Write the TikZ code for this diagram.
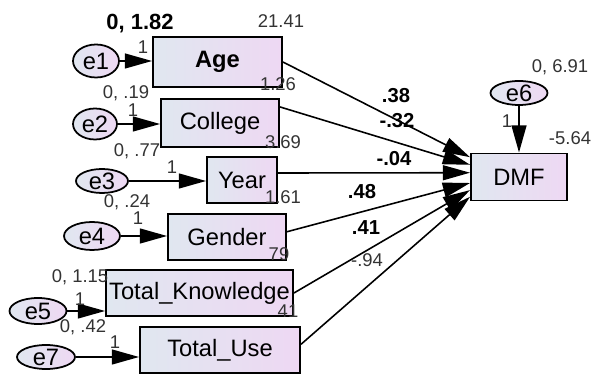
\documentclass[tikz,border=0pt]{standalone}
\usepackage{fontspec}
\setmainfont{Liberation Sans}
\usetikzlibrary{arrows.meta,shapes.geometric}

\definecolor{boxleft}{HTML}{E0E7F0}
\definecolor{boxright}{HTML}{EED8F3}
\definecolor{numgray}{HTML}{333333}

\tikzset{
  var/.style={draw, line width=1.1pt, rectangle, inner sep=0pt, left color=boxleft, right color=boxright,
    minimum height=0.92cm, font=\fontsize{13.5}{15}\selectfont},
  err/.style={draw, line width=1pt, ellipse, inner sep=0pt, left color=boxleft, right color=boxright,
    font=\fontsize{13.5}{15}\selectfont},
  est/.style={font=\fontsize{10.5}{12}\selectfont, text=numgray, inner sep=0pt},
  coef/.style={font=\bfseries\fontsize{11.5}{13}\selectfont, inner sep=0pt},
  regr/.style={line width=0.9pt, -{Triangle[length=15.5pt,width=8.5pt]}},
}

\begin{document}
\begin{tikzpicture}[x=0.02cm, y=-0.02cm]
    \useasboundingbox (0,0) rectangle (594,374);

    % Variables observadas
    \node[var, minimum width=2.58cm, minimum height=1cm, font=\bfseries\fontsize{13.5}{15}\selectfont] (age) at (217.5,62) {Age};
    \node[var, minimum width=2.36cm, minimum height=0.96cm] (college) at (220,123) {College};
    \node[var, minimum width=1.4cm] (year) at (242,180) {Year};
    \node[var, minimum width=2.36cm] (gender) at (227,237) {Gender};
    \node[var, minimum width=3.74cm] (know) at (199.5,293) {Total\_Knowledge};
    \node[var, minimum width=3.2cm] (use) at (220,350) {Total\_Use};
    \node[var, minimum width=1.92cm, minimum height=0.94cm] (dmf) at (519,177) {DMF};

    % Errores
    \node[err, minimum width=0.92cm, minimum height=0.66cm] (e1) at (96,61) {e1};
    \node[err, minimum width=0.88cm, minimum height=0.62cm] (e2) at (95,124) {e2};
    \node[err, minimum width=1.04cm, minimum height=0.48cm] (e3) at (102,181) {e3};
    \node[err, minimum width=1.12cm, minimum height=0.56cm] (e4) at (92,236) {e4};
    \node[err, minimum width=1.14cm, minimum height=0.52cm] (e5) at (38,311) {e5};
    \node[err, minimum width=1.16cm, minimum height=0.48cm] (e7) at (46,357) {e7};
    \node[err, minimum width=1.14cm, minimum height=0.48cm] (e6) at (519,93) {e6};

    \draw[regr] (e1) -- (e1 -| age.west);
    \draw[regr] (e2) -- (e2 -| college.west);
    \draw[regr] (e3) -- (e3 -| year.west);
    \draw[regr] (e4) -- (e4 -| gender.west);
    \draw[regr] (e5) -- (e5 -| know.west);
    \draw[regr] (e7) -- (e7 -| use.west);
    \draw[regr] (e6) -- (dmf);

    % Efectos sobre DMF
    \draw[regr] (age.east) -- (dmf.158);
    \draw[regr] (college.15) -- (dmf.166);
    \draw[regr] (year.11) -- (dmf.175);
    \draw[regr] (gender.5) -- (dmf.187);
    \draw[regr] (know.east) -- (dmf.195);
    \draw[regr] (use.4) -- (dmf.202);

    % Estimaciones
    \node[coef, font=\bfseries\fontsize{12.5}{14}\selectfont] (v1) at (140,24) {0, 1.82};
    \node[est] (m1) at (281,21) {21.41};
    \node[est] (w1) at (143,47) {1};
    \node[est] (m2) at (278,84) {1.26};
    \node[est] (v2) at (126,93) {0, .19};
    \node[est] (w2) at (133,110) {1};
    \node[est] (v3) at (137,151) {0, .77};
    \node[est] (m3) at (283,142) {3.69};
    \node[est] (w3) at (172,167) {1};
    \node[est] (m4) at (283,197) {1.61};
    \node[est] (v4) at (127,202) {0, .24};
    \node[est] (w4) at (138,218) {1};
    \node[est] (m5) at (279,254) {79};
    \node[est] (v5) at (80,277) {0, 1.15};
    \node[est] (w5) at (80,299) {1};
    \node[est] (m6) at (288,311) {41};
    \node[est] (v7) at (83,327) {0, .42};
    \node[est] (w7) at (115,342) {1};
    \node[est] (v6) at (560,67) {0, 6.91};
    \node[est] (w6) at (507,121) {1};
    \node[est] (m7) at (570,138) {-5.64};

    % Coeficientes
    \node[coef] (b1) at (396,96) {.38};
    \node[coef] (b2) at (397,121) {-.32};
    \node[coef] (b3) at (394,159) {-.04};
    \node[coef] (b4) at (362,192) {.48};
    \node[coef] (b5) at (366,228) {.41};
    \node[est] (b6) at (367,260) {-.94};
\end{tikzpicture}
\end{document}
